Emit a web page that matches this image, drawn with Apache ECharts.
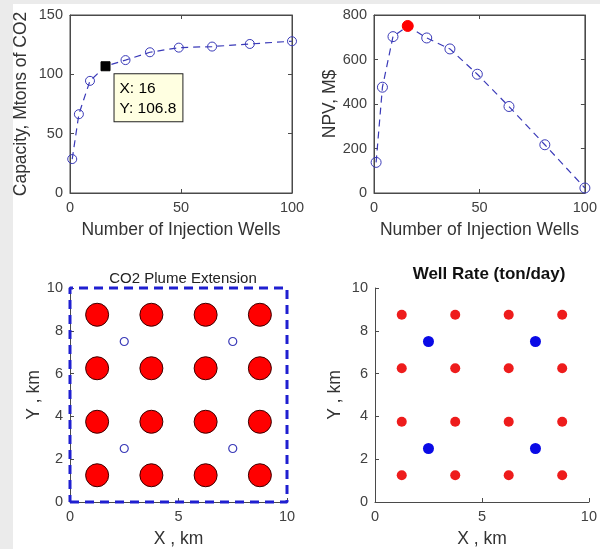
<!DOCTYPE html>
<html>
<head>
<meta charset="utf-8">
<script src="https://cdn.jsdelivr.net/npm/echarts@6/dist/echarts.min.js"></script>
<style>
  html, body { margin: 0; padding: 0; background: #fff; }
  #chart { width: 600px; height: 549px; }
</style>
</head>
<body>
<div id="chart"></div>
<script>
// number of injection wells vs capacity / NPV
var wells = [1, 4, 9, 16, 25, 36, 49, 64, 81, 100];
var capacity = [28.6, 66.4, 94.5, 106.8, 112, 118.6, 122.5, 123.4, 125.6, 127.9];
var npv = [137.6, 475.5, 702.8, 750.7, 696.8, 647.5, 533.8, 388.8, 216.8, 22.4];
var bestIndex = 3; // 16 wells

// well layout (km)
var wellCols = [1.25, 3.75, 6.25, 8.75];
var wellRows = [1.25, 3.75, 6.25, 8.75];
var blueWells = [[2.5, 2.5], [7.5, 2.5], [2.5, 7.5], [7.5, 7.5]];
var plumeBox = [[0, 0], [10, 0], [10, 10], [0, 10], [0, 0]];

var redWells = [];
wellRows.forEach(function (y) {
  wellCols.forEach(function (x) { redWells.push([x, y]); });
});

var FONT = 'Liberation Sans, Arial, sans-serif';
var LINE_BLUE = '#3a3ab8';
var AX = '#4a4a4a';

function pairs(xs, ys) {
  return xs.map(function (x, i) { return [x, ys[i]]; });
}

var chart = echarts.init(document.getElementById('chart'));

function valAxis(grid, opt) {
  var a = {
    type: 'value',
    gridIndex: grid,
    min: opt.min,
    max: opt.max,
    interval: opt.interval,
    position: opt.position,
    axisLine: { show: true, onZero: false, lineStyle: { color: AX, width: 1 } },
    axisTick: { show: true, inside: true, length: 4, lineStyle: { color: AX } },
    axisLabel: { show: opt.label !== false, color: '#404040', fontSize: 14.5, fontFamily: FONT, margin: 7 },
    splitLine: { show: false }
  };
  if (opt.name) {
    a.name = opt.name;
    a.nameLocation = 'middle';
    a.nameGap = opt.nameGap;
    a.nameTextStyle = { color: '#333', fontSize: 17.5, fontFamily: FONT };
  }
  return a;
}

var option = {
  backgroundColor: '#fff',
  animation: false,
  graphic: [
    { type: 'rect', shape: { x: 0, y: 0, width: 13, height: 549 }, style: { fill: '#ebebeb' }, z: -10 },
    { type: 'rect', shape: { x: 0, y: 0, width: 600, height: 4 }, style: { fill: '#ebebeb' }, z: -10 }
  ],
  title: [
    { text: 'CO2 Plume Extension', left: 178, top: 266, textAlign: 'center',
      textStyle: { fontSize: 15, fontWeight: 'normal', color: '#222', fontFamily: FONT } },
    { text: 'Well Rate (ton/day)', left: 484, top: 261, textAlign: 'center',
      textStyle: { fontSize: 17, fontWeight: 'bold', color: '#111', fontFamily: FONT } }
  ],
  grid: [
    { left: 70, top: 15, width: 222, height: 178, show: true, borderColor: AX, borderWidth: 1 },
    { left: 374, top: 15, width: 221, height: 178, show: true, borderColor: AX, borderWidth: 1 },
    { left: 70, top: 288, width: 217, height: 215 },
    { left: 375, top: 288, width: 217, height: 215 }
  ],
  xAxis: [
    valAxis(0, { min: 0, max: 100, interval: 50, name: 'Number of Injection Wells', nameGap: 28 }),
    valAxis(1, { min: 0, max: 100, interval: 50, name: 'Number of Injection Wells', nameGap: 28 }),
    valAxis(2, { min: 0, max: 10, interval: 5, name: 'X , km', nameGap: 28 }),
    valAxis(3, { min: 0, max: 10, interval: 5, name: 'X , km', nameGap: 28 }),
    valAxis(0, { min: 0, max: 100, interval: 50, position: 'top', label: false }),
    valAxis(1, { min: 0, max: 100, interval: 50, position: 'top', label: false })
  ],
  yAxis: [
    valAxis(0, { min: 0, max: 150, interval: 50, name: 'Capacity, Mtons of CO2', nameGap: 40 }),
    valAxis(1, { min: 0, max: 800, interval: 200, name: 'NPV, M$', nameGap: 27 }),
    valAxis(2, { min: 0, max: 10, interval: 2, name: 'Y , km', nameGap: 26 }),
    valAxis(3, { min: 0, max: 10, interval: 2, name: 'Y , km', nameGap: 31 }),
    valAxis(0, { min: 0, max: 150, interval: 50, position: 'right', label: false }),
    valAxis(1, { min: 0, max: 800, interval: 200, position: 'right', label: false })
  ],
  series: [
    {
      type: 'line',
      xAxisIndex: 0, yAxisIndex: 0,
      data: pairs(wells, capacity).map(function (p, i) {
        if (i !== bestIndex) return p;
        return {
          value: p,
          symbol: 'rect',
          symbolSize: 9,
          itemStyle: { color: '#000', borderColor: '#000' },
          label: {
            show: true,
            position: [14, 13],
            formatter: 'X: ' + p[0] + '\nY: ' + p[1],
            backgroundColor: '#ffffe1',
            borderColor: '#222',
            borderWidth: 1,
            padding: [4, 6, 3, 5],
            lineHeight: 20,
            color: '#000',
            fontSize: 15.5,
            fontFamily: FONT
          }
        };
      }),
      symbol: 'circle',
      symbolSize: 9,
      itemStyle: { color: 'rgba(0,0,0,0)', borderColor: LINE_BLUE, borderWidth: 1 },
      lineStyle: { color: LINE_BLUE, width: 1.2, type: [7, 5] },
      clip: false
    },
    {
      type: 'line',
      xAxisIndex: 1, yAxisIndex: 1,
      data: pairs(wells, npv).map(function (p, i) {
        if (i !== bestIndex) return p;
        return { value: p, symbolSize: 11, itemStyle: { color: '#f00', borderColor: '#f00' } };
      }),
      symbol: 'circle',
      symbolSize: 10,
      itemStyle: { color: 'rgba(0,0,0,0)', borderColor: LINE_BLUE, borderWidth: 1 },
      lineStyle: { color: LINE_BLUE, width: 1.2, type: [7, 5] },
      clip: false
    },
    {
      type: 'line',
      xAxisIndex: 2, yAxisIndex: 2,
      data: plumeBox,
      symbol: 'none',
      lineStyle: { color: '#1f1fd0', width: 3, type: [9, 6] },
      clip: false,
      z: 3
    },
    {
      type: 'scatter',
      xAxisIndex: 2, yAxisIndex: 2,
      data: redWells,
      symbolSize: 23,
      itemStyle: { color: '#ff0000', borderColor: '#3a0000', borderWidth: 1, opacity: 1 }
    },
    {
      type: 'scatter',
      xAxisIndex: 2, yAxisIndex: 2,
      data: blueWells,
      symbolSize: 8,
      itemStyle: { color: '#fff', borderColor: LINE_BLUE, borderWidth: 1.2, opacity: 1 }
    },
    {
      type: 'scatter',
      xAxisIndex: 3, yAxisIndex: 3,
      data: redWells,
      symbolSize: 10,
      itemStyle: { color: '#ee1c1c', opacity: 1 }
    },
    {
      type: 'scatter',
      xAxisIndex: 3, yAxisIndex: 3,
      data: blueWells,
      symbolSize: 11,
      itemStyle: { color: '#0a0ae6', opacity: 1 }
    }
  ]
};

chart.setOption(option);
</script>
</body>
</html>
